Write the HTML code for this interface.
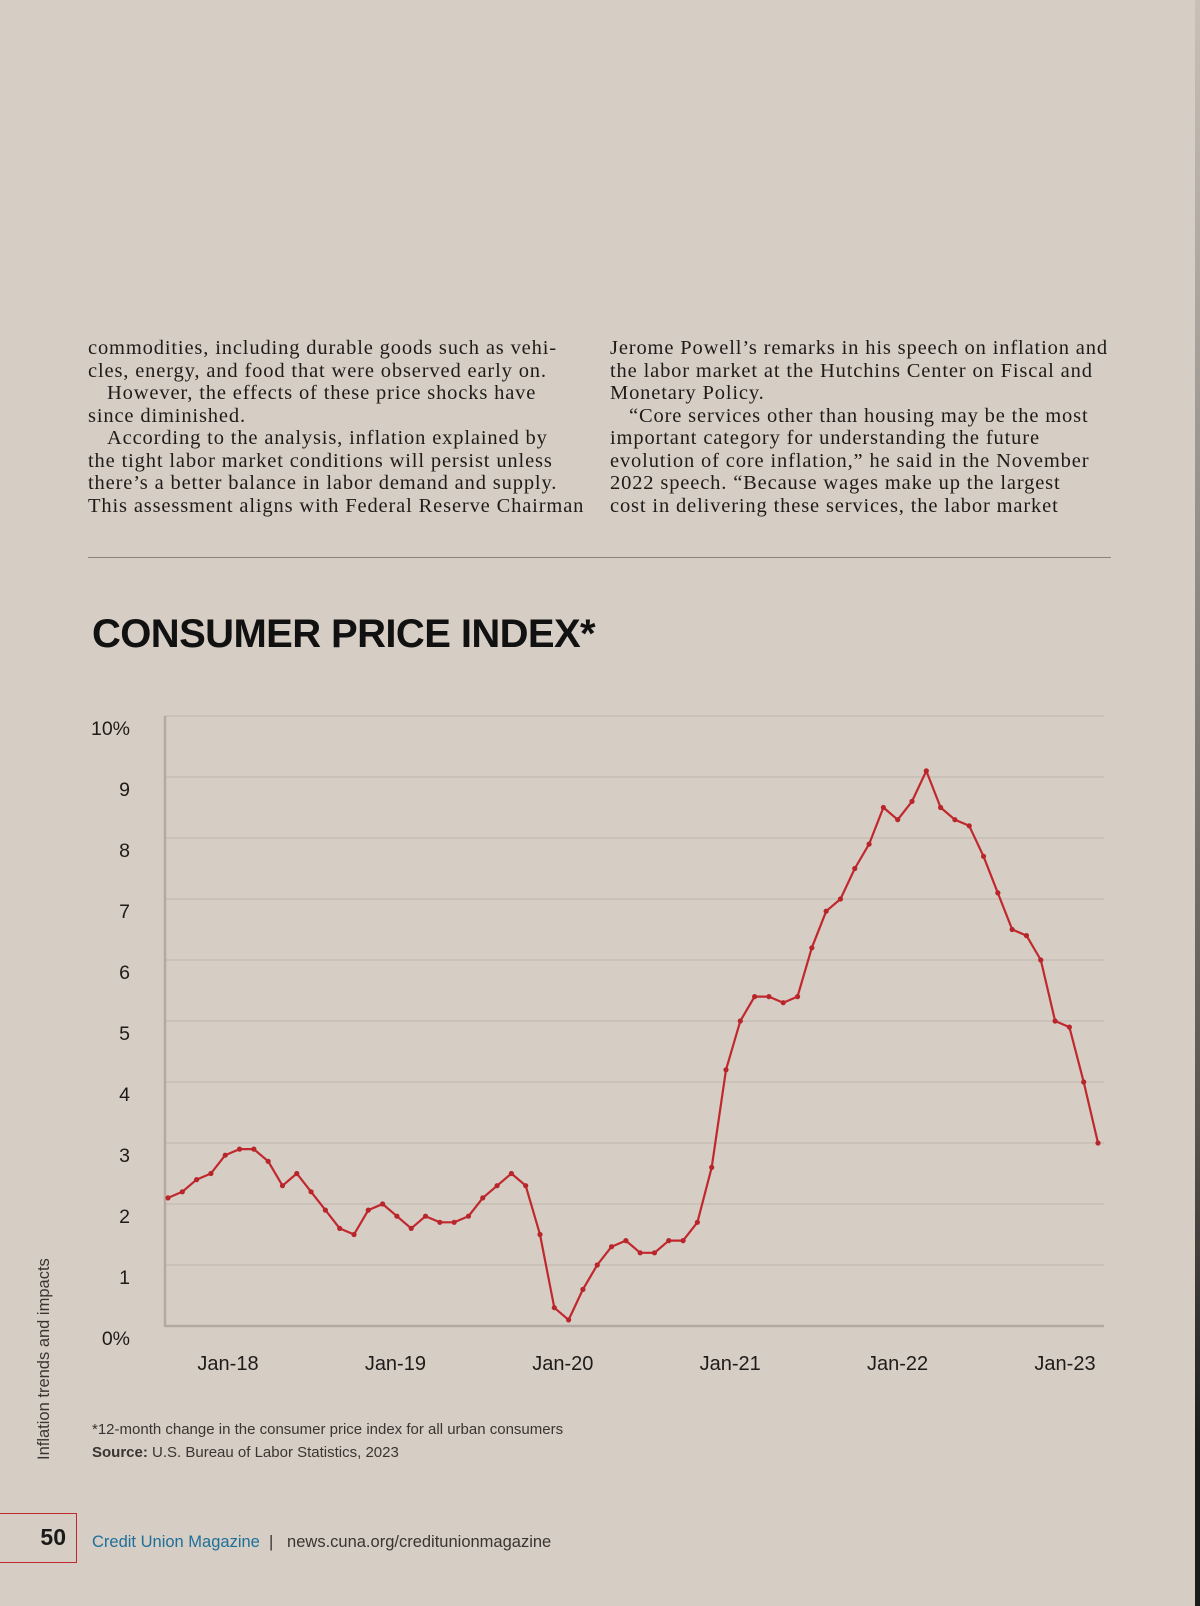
<!DOCTYPE html>
<html><head><meta charset="utf-8">
<style>
html,body{margin:0;padding:0;}
body{width:1200px;height:1606px;background:#d6cdc4;position:relative;overflow:hidden;font-family:"Liberation Sans",sans-serif;}
.col{position:absolute;top:337px;width:520px;font-family:"Liberation Serif",serif;font-size:20.5px;line-height:22.5px;color:#1e1b19;letter-spacing:0.85px;white-space:nowrap;}
.col div{height:22.5px;}
.ind{padding-left:19px;}
</style></head>
<body>
<div class="col" style="left:88px;">
<div>commodities, including durable goods such as vehi-</div>
<div>cles, energy, and food that were observed early on.</div>
<div class="ind">However, the effects of these price shocks have</div>
<div>since diminished.</div>
<div class="ind">According to the analysis, inflation explained by</div>
<div>the tight labor market conditions will persist unless</div>
<div>there’s a better balance in labor demand and supply.</div>
<div>This assessment aligns with Federal Reserve Chairman</div>
</div>
<div class="col" style="left:610px;">
<div>Jerome Powell’s remarks in his speech on inflation and</div>
<div>the labor market at the Hutchins Center on Fiscal and</div>
<div>Monetary Policy.</div>
<div class="ind">“Core services other than housing may be the most</div>
<div>important category for understanding the future</div>
<div>evolution of core inflation,” he said in the November</div>
<div>2022 speech. “Because wages make up the largest</div>
<div>cost in delivering these services, the labor market</div>
</div>
<div style="position:absolute;left:88px;top:557px;width:1023px;height:1px;background:#8a837d;"></div>
<div style="position:absolute;left:92px;top:612px;font-size:40px;font-weight:bold;color:#111;letter-spacing:-0.6px;">CONSUMER PRICE INDEX*</div>

<svg id="chart" width="1200" height="1606" style="position:absolute;left:0;top:0;"></svg>

<div style="position:absolute;left:92px;top:1421px;font-size:15px;color:#3a3532;">*12-month change in the consumer price index for all urban consumers</div>
<div style="position:absolute;left:92px;top:1444px;font-size:15px;color:#3a3532;"><b>Source:</b> U.S. Bureau of Labor Statistics, 2023</div>
<div style="position:absolute;left:35px;top:1460px;transform-origin:0 0;transform:rotate(-90deg);font-size:16.5px;color:#3a3532;white-space:nowrap;">Inflation trends and impacts</div>
<div style="position:absolute;left:-2px;top:1513px;width:79px;height:50px;border:1.5px solid #c0282e;box-sizing:border-box;font-weight:bold;font-size:23px;color:#1a1a1a;text-align:right;padding-right:10px;line-height:47px;">50</div>
<div style="position:absolute;left:92px;top:1533px;font-size:16.5px;color:#3a3532;white-space:nowrap;"><span style="color:#1e6f9a;">Credit Union Magazine</span>&nbsp;&nbsp;|&nbsp;&nbsp;&nbsp;news.cuna.org/creditunionmagazine</div>
<div style="position:absolute;left:1195px;top:0;width:5px;height:1606px;background:linear-gradient(#c9c1b8,#8a8580 40%,#5a5550 70%,#1c1c1c 90%);"></div>

<script>
const yTicks=[0,1,2,3,4,5,6,7,8,9,10];
const yTickLabels=["0%","1","2","3","4","5","6","7","8","9","10%"];
const xTickLabels=["Jan-18","Jan-19","Jan-20","Jan-21","Jan-22","Jan-23"];
const cpi2018=[2.1,2.2,2.4,2.5,2.8,2.9,2.9,2.7,2.3,2.5,2.2,1.9];
const cpi2019=[1.6,1.5,1.9,2.0,1.8,1.6,1.8,1.7,1.7,1.8,2.1,2.3];
const cpi2020=[2.5,2.3,1.5,0.3,0.1,0.6,1.0,1.3,1.4,1.2,1.2,1.4];
const cpi2021=[1.4,1.7,2.6,4.2,5.0,5.4,5.4,5.3,5.4,6.2,6.8,7.0];
const cpi2022=[7.5,7.9,8.5,8.3,8.6,9.1,8.5,8.3,8.2,7.7,7.1,6.5];
const cpi2023=[6.4,6.0,5.0,4.9,4.0,3.0];
const values=[].concat(cpi2018,cpi2019,cpi2020,cpi2021,cpi2022,cpi2023);

const NS="http://www.w3.org/2000/svg";
const svg=document.getElementById('chart');
const L=165,R=1104,Y0=1326,Y10=716,X0=168,X1=1098;
function y(v){return Y0-(v/10)*(Y0-Y10);}
function x(i){return X0+i*(X1-X0)/(values.length-1);}
function xt(i){return 228+i*(1065-228)/(xTickLabels.length-1);}
function mk(t,a){const e=document.createElementNS(NS,t);for(const k in a)e.setAttribute(k,a[k]);svg.appendChild(e);return e;}

yTicks.forEach((v,i)=>{
  if(v>0){const g=mk('line',{x1:L,x2:R,y1:y(v),y2:y(v),stroke:'#c6bdb4','stroke-width':1.5});
  
  }
  const t=mk('text',{x:130,y:y(v)+19,'text-anchor':'end','font-size':19.5,fill:'#1e1b19','font-family':'Liberation Sans, sans-serif'});
  t.textContent=yTickLabels[i];
  
  
});
const ax=mk('line',{x1:L,x2:L,y1:Y10,y2:Y0+1,stroke:'#b3aba3','stroke-width':2.5});


const bx=mk('line',{x1:L,x2:R,y1:Y0,y2:Y0,stroke:'#b3aba3','stroke-width':2.5});


xTickLabels.forEach((s,i)=>{
  const t=mk('text',{x:xt(i),y:1370,'text-anchor':'middle','font-size':20,fill:'#1e1b19','font-family':'Liberation Sans, sans-serif'});
  t.textContent=s;
  
  
});
const pts=values.map((v,i)=>x(i).toFixed(1)+','+y(v).toFixed(1)).join(' ');
const pl=mk('polyline',{points:pts,fill:'none',stroke:'#c0282e','stroke-width':2.2,'stroke-linejoin':'round'});


values.forEach((v,i)=>{
  const c=mk('circle',{cx:x(i),cy:y(v),r:2.6,fill:'#b8262b'});
  
  
});
</script>
</body></html>
